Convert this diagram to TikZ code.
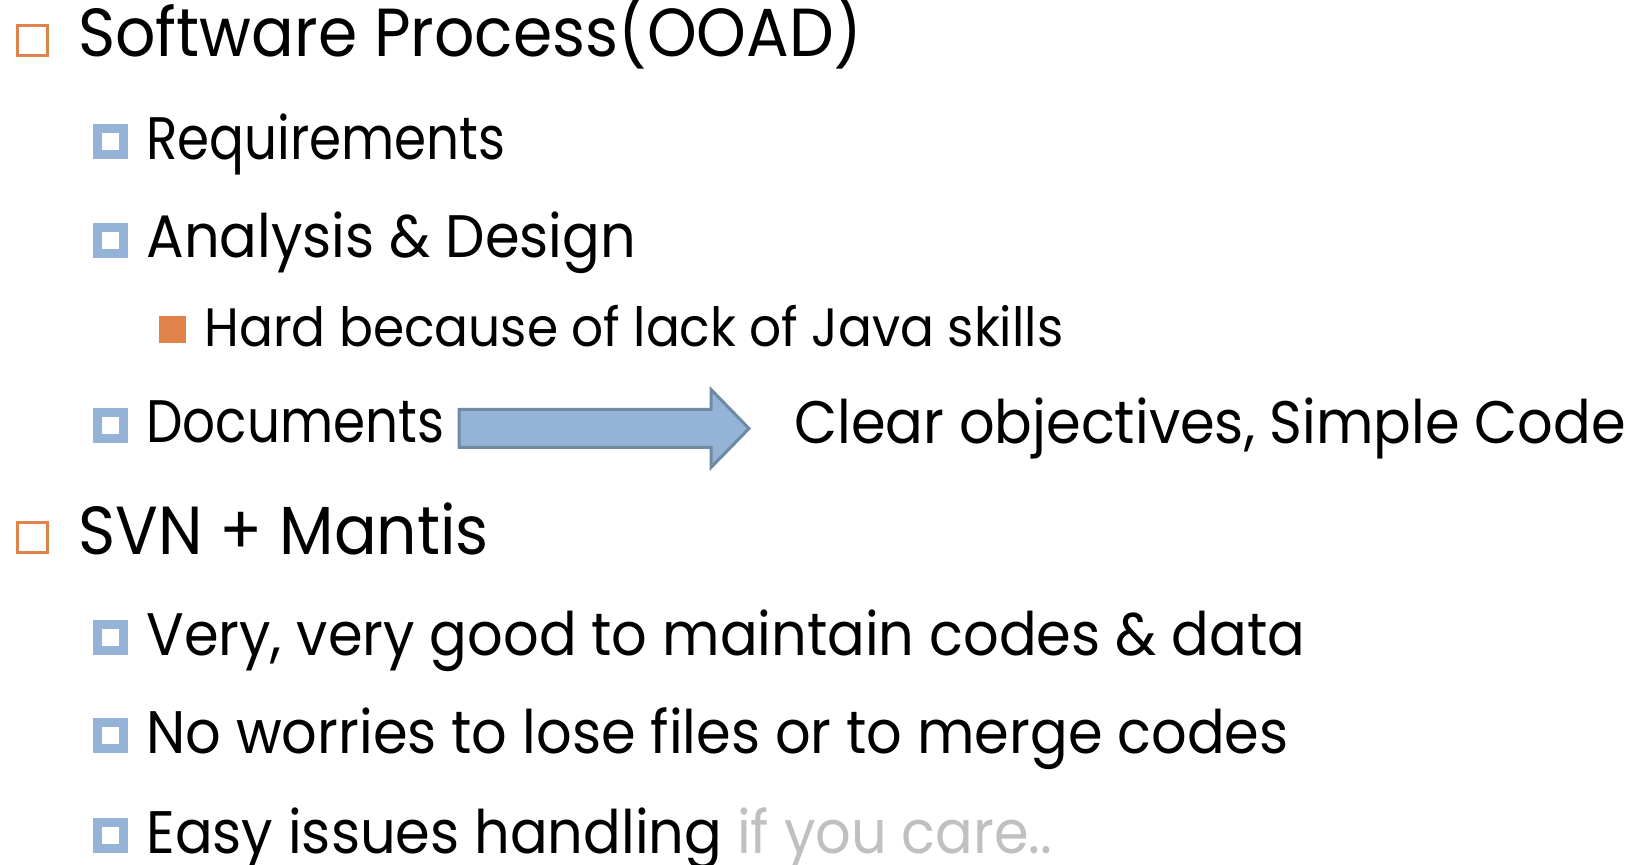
\documentclass[tikz,border=0pt]{standalone}
\usepackage{fontspec}
\setmainfont{Poppins}[FakeStretch=0.93]
\newfontfamily\narrowfont{Poppins}[FakeStretch=0.86]
\definecolor{markorange}{HTML}{E0834A}
\definecolor{markblue}{HTML}{95B3D7}
\definecolor{arrowedge}{HTML}{6E8BA3}
\definecolor{hintgray}{HTML}{C0C0C0}
\begin{document}
\begin{tikzpicture}
[x=0.5pt,y=-0.5pt,inner sep=0pt,
topic/.style={anchor=base west,font=\fontsize{34}{40}\selectfont},
point/.style={anchor=base west,font=\fontsize{30}{36}\selectfont},
narrowpoint/.style={point,font=\narrowfont\fontsize{30}{36}\selectfont},
detail/.style={anchor=base west,font=\fontsize{27}{30}\selectfont},
topicmark/.style={draw=markorange,line width=1.5pt,minimum size=15pt},
pointmark/.style={draw=markblue,line width=4.5pt,minimum size=13pt},
detailmark/.style={fill=markorange,minimum size=13.5pt},
blockarrow/.style={fill=markblue,draw=arrowedge,line width=1.5pt}]
\useasboundingbox (0,0) rectangle (1642,865);

\node[topicmark] (m1) at (32.5,40.5) {};
\node[topic] (process) at (78,57) {Software Process(OOAD)};
\node[pointmark] (m11) at (110.5,141.5) {};
\node[narrowpoint] (req) at (146,160) {Requirements};
\node[pointmark] (m12) at (110.5,240.5) {};
\node[point] (ad) at (146,258) {Analysis \& Design};
\node[detailmark] (m121) at (172.5,330) {};
\node[detail] (hard) at (204,347) {Hard because of lack of Java skills};
\node[pointmark] (m13) at (110.5,426) {};
\node[narrowpoint] (docs) at (146,443) {Documents};
\coordinate (arrowtail) at (459,428.5);
\draw[blockarrow] (arrowtail) ++(0,-19) -- ++(252,0) -- ++(0,-20) -- ++(38,39)
  -- ++(-38,39) -- ++(0,-20) -- ++(-252,0) -- cycle;
\node[point] (clear) at (794,444) {Clear objectives, Simple Code};

\node[topicmark] (m2) at (32.5,537) {};
\node[topic] (svn) at (78,554) {SVN + Mantis};
\node[pointmark] (m21) at (110.5,637) {};
\node[point] (good) at (146,655) {Very, very good to maintain codes \& data};
\node[pointmark] (m22) at (110.5,735.5) {};
\node[point] (worry) at (146,753) {No worries to lose files or to merge codes};
\node[pointmark] (m23) at (110.5,835.5) {};
\node[point] (easy) at (146,853) {Easy issues handling {\color{hintgray}if you care..}};
\end{tikzpicture}
\end{document}
